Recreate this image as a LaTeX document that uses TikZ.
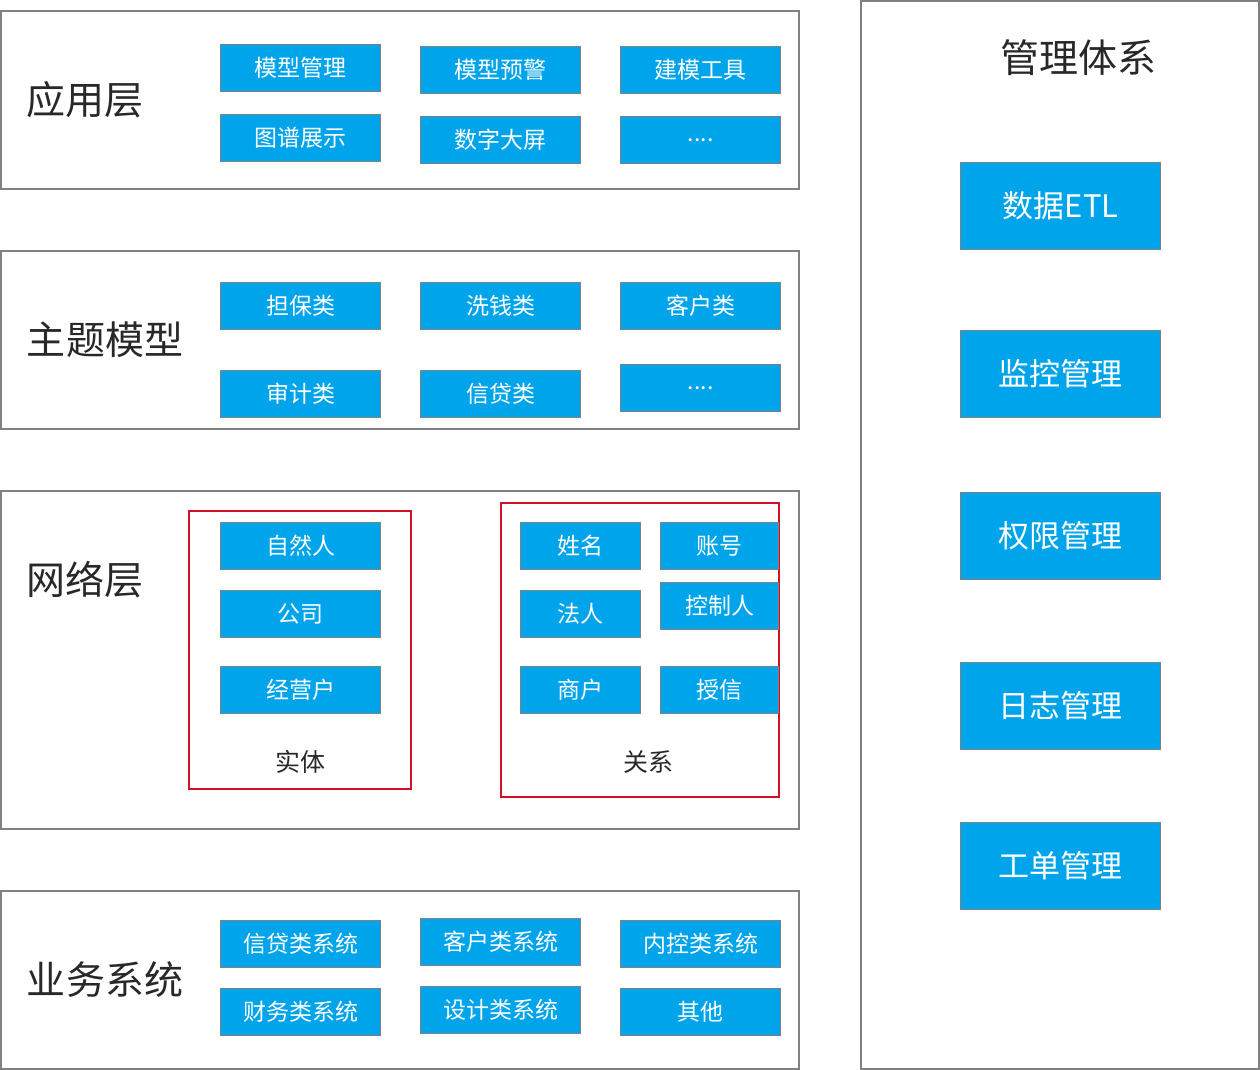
\documentclass[tikz,border=0pt]{standalone}
\usepackage{fontspec}
\setmainfont{Noto Sans CJK SC}
\definecolor{blk}{RGB}{0,164,234}
\definecolor{frm}{RGB}{128,128,128}
\definecolor{redl}{RGB}{208,16,40}
\definecolor{txt}{RGB}{40,40,40}
\tikzset{
  layer/.style={draw=frm, line width=1.5pt},
  grp/.style={draw=redl, line width=1.5pt},
  box/.style={draw=frm, fill=blk, text=white, line width=1.2pt, inner sep=0pt, anchor=north west,
    minimum width=160pt, minimum height=47pt, font=\fontsize{23}{23}\selectfont},
  bigbox/.style={box, minimum width=200pt, minimum height=87pt, font=\fontsize{31}{31}\selectfont},
  ttl/.style={text=txt, font=\fontsize{39}{39}\selectfont},
  grplabel/.style={text=txt, font=\fontsize{25}{25}\selectfont}
}
\begin{document}
\begin{tikzpicture}[x=1pt,y=-1pt]
\useasboundingbox (0,0) rectangle (1260,1070);

% layers
\draw[layer] (1,11) rectangle (799,189);
\draw[layer] (1,251) rectangle (799,429);
\draw[layer] (1,491) rectangle (799,829);
\draw[layer] (1,891) rectangle (799,1069);
\draw[layer] (861,1) rectangle (1259,1069);

% layer titles
\node[ttl] (appl) at (85,100) {应用层};
\node[ttl] (topic) at (105,340) {主题模型};
\node[ttl] (net) at (85,580) {网络层};
\node[ttl] (biz) at (105,980) {业务系统};
\node[ttl] (mgmt) at (1078,58) {管理体系};

% application layer
\node[box] (a1) at (220,44) {模型管理};
\node[box] (a2) at (420,46) {模型预警};
\node[box] (a3) at (620,46) {建模工具};
\node[box] (a4) at (220,114) {图谱展示};
\node[box] (a5) at (420,116) {数字大屏};
\node[box] (a6) at (620,116) {....};

% topic models
\node[box] (t1) at (220,282) {担保类};
\node[box] (t2) at (420,282) {洗钱类};
\node[box] (t3) at (620,282) {客户类};
\node[box] (t4) at (220,370) {审计类};
\node[box] (t5) at (420,370) {信贷类};
\node[box] (t6) at (620,364) {....};

% network layer
\draw[grp] (189,511) rectangle (411,789);
\draw[grp] (501,503) rectangle (779,797);
\node[box] (e1) at (220,522) {自然人};
\node[box] (e2) at (220,590) {公司};
\node[box] (e3) at (220,666) {经营户};
\node[grplabel] (ent) at (300,762) {实体};
\node[box, minimum width=120pt] (r1) at (520,522) {姓名};
\node[box, minimum width=118pt] (r2) at (660,522) {账号};
\node[box, minimum width=120pt] (r3) at (520,590) {法人};
\node[box, minimum width=118pt] (r4) at (660,582) {控制人};
\node[box, minimum width=120pt] (r5) at (520,666) {商户};
\node[box, minimum width=118pt] (r6) at (660,666) {授信};
\node[grplabel] (rel) at (648,762) {关系};

% business systems
\node[box] (b1) at (220,920) {信贷类系统};
\node[box] (b2) at (420,918) {客户类系统};
\node[box] (b3) at (620,920) {内控类系统};
\node[box] (b4) at (220,988) {财务类系统};
\node[box] (b5) at (420,986) {设计类系统};
\node[box] (b6) at (620,988) {其他};

% management
\node[bigbox] (m1) at (960,162) {数据ETL};
\node[bigbox] (m2) at (960,330) {监控管理};
\node[bigbox] (m3) at (960,492) {权限管理};
\node[bigbox] (m4) at (960,662) {日志管理};
\node[bigbox] (m5) at (960,822) {工单管理};

\end{tikzpicture}
\end{document}
